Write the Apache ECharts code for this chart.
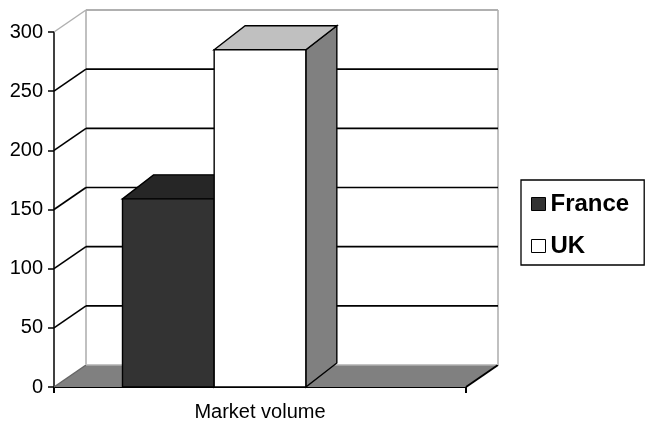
<!DOCTYPE html>
<html>
<head>
<meta charset="utf-8">
<script src="https://cdn.jsdelivr.net/npm/echarts@6/dist/echarts.min.js"></script>
<style>
html, body { margin: 0; padding: 0; background: #fff; }
#chart { width: 645px; height: 424px; }
</style>
</head>
<body>
<div id="chart"></div>
<script>
const categories = ['Market volume']
const seriesNames = ['France', 'UK']
const franceValues = [159]
const ukValues = [285]
const yTicks = [0, 50, 100, 150, 200, 250, 300]

const FONT = '"Liberation Sans", Arial, sans-serif'

// depth of the 3d box (walls / floor) and of the bars
const DX = 32, DY = -22
const BAR_DX = 31, BAR_DY = -24

const chart = echarts.init(document.getElementById('chart'))

const line = (x1, y1, x2, y2, stroke, width) => ({
    type: 'line',
    shape: { x1, y1, x2, y2 },
    style: { stroke, lineWidth: width }
})

// back wall, side wall, floor and gridlines
const renderWalls = (params, api) => {
    const cs = params.coordSys
    const left = cs.x
    const right = cs.x + cs.width
    const y0 = api.coord([0, 0])[1]
    const yMax = api.coord([0, yTicks[yTicks.length - 1]])[1]
    const children = []
    children.push({
        type: 'polygon',
        shape: { points: [[left, y0], [left + DX, y0 + DY], [right + DX, y0 + DY], [right, y0]] },
        style: { fill: '#808080', stroke: null }
    })
    children.push(line(left, y0, left + DX, y0 + DY, '#666', 1.5))
    children.push(line(left + DX, y0 + DY, right + DX, y0 + DY, '#b0b0b0', 1.5))
    children.push(line(right, y0, right + DX, y0 + DY, '#000', 2))
    // wall borders
    children.push(line(left + DX, yMax + DY, left + DX, y0 + DY, '#c0c0c0', 2))
    children.push(line(right + DX, yMax + DY, right + DX, y0 + DY, '#c0c0c0', 2))
    children.push(line(left + DX, yMax + DY, right + DX, yMax + DY, '#b0b0b0', 2))
    children.push(line(left, yMax, left + DX, yMax + DY, '#b0b0b0', 1.5))
    // gridlines
    yTicks.slice(1, -1).forEach(v => {
        const y = api.coord([0, v])[1]
        children.push(line(left, y, left + DX, y + DY, '#000', 1.6))
        children.push(line(left + DX, y + DY, right + DX, y + DY, '#000', 1.6))
    })
    return { type: 'group', children }
}

// 3d column; slot -1 is left of centre, 0 is centred
const barRenderer = (slot, front, top, side) => (params, api) => {
    const cx = api.coord([api.value(0), 0])[0]
    const bandW = api.size([1, 0])[0]
    const w = bandW * 0.2225
    const x1 = cx + (slot - 0.5) * w
    const x2 = x1 + w
    const yTop = api.coord([api.value(0), api.value(1)])[1]
    const yBot = api.coord([api.value(0), 0])[1]
    const st = { stroke: '#000', lineWidth: 1.4, lineJoin: 'miter' }
    return {
        type: 'group',
        children: [
            {
                type: 'polygon',
                shape: { points: [[x2, yTop], [x2 + BAR_DX, yTop + BAR_DY], [x2 + BAR_DX, yBot + BAR_DY], [x2, yBot]] },
                style: Object.assign({ fill: side }, st)
            },
            {
                type: 'polygon',
                shape: { points: [[x1, yTop], [x1 + BAR_DX, yTop + BAR_DY], [x2 + BAR_DX, yTop + BAR_DY], [x2, yTop]] },
                style: Object.assign({ fill: top }, st)
            },
            {
                type: 'rect',
                shape: { x: x1, y: yTop, width: w, height: yBot - yTop },
                style: Object.assign({ fill: front }, st)
            }
        ]
    }
}

const options = {
    animation: false,
    backgroundColor: '#fff',
    textStyle: { fontFamily: FONT },
    grid: { left: 54, right: 179, top: 32, bottom: 37 },
    xAxis: {
        type: 'category',
        data: categories,
        axisLine: { lineStyle: { color: '#000', width: 2 } },
        axisTick: { show: true, length: 6, lineStyle: { color: '#000', width: 2 } },
        axisLabel: { color: '#000', fontSize: 20, fontFamily: FONT, margin: 15 }
    },
    yAxis: {
        type: 'value',
        min: 0,
        max: 300,
        interval: 50,
        splitLine: { show: false },
        axisLine: { show: true, lineStyle: { color: '#000', width: 1.5 } },
        axisTick: { show: true, length: 6, lineStyle: { color: '#000', width: 1.5 } },
        axisLabel: { color: '#000', fontSize: 20, fontFamily: FONT, margin: 11 }
    },
    legend: {
        data: seriesNames,
        orient: 'vertical',
        left: 521,
        top: 180,
        padding: [12, 15, 7, 10],
        itemGap: 18,
        itemWidth: 14,
        itemHeight: 13,
        itemTextGap: 9,
        icon: 'rect',
        backgroundColor: '#fff',
        borderColor: '#000',
        borderWidth: 1.3,
        itemStyle: { borderColor: '#000', borderWidth: 1 },
        textStyle: { color: '#000', fontSize: 24, fontWeight: 'bold', fontFamily: FONT }
    },
    series: [
        {
            name: 'walls',
            type: 'custom',
            renderItem: renderWalls,
            data: [[0, 0]],
            z: 1,
            silent: true
        },
        {
            name: 'France',
            type: 'custom',
            renderItem: barRenderer(-1, '#333333', '#262626', '#1a1a1a'),
            itemStyle: { color: '#333333' },
            encode: { x: 0, y: 1 },
            data: franceValues.map((v, i) => [i, v]),
            z: 2
        },
        {
            name: 'UK',
            type: 'custom',
            renderItem: barRenderer(0, '#ffffff', '#c0c0c0', '#808080'),
            itemStyle: { color: '#ffffff' },
            encode: { x: 0, y: 1 },
            data: ukValues.map((v, i) => [i, v]),
            z: 3
        }
    ]
}

chart.setOption(options)
</script>
</body>
</html>
